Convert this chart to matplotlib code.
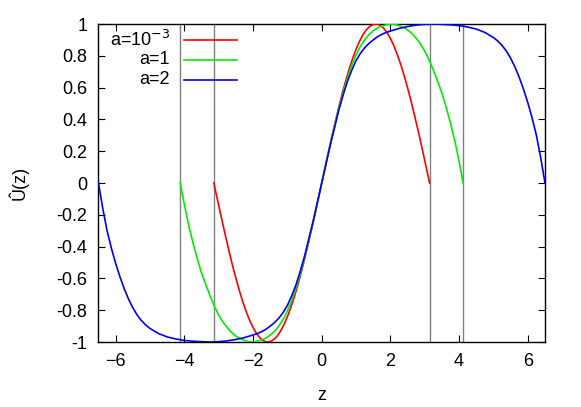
import numpy as np
import matplotlib.pyplot as plt
from matplotlib.lines import Line2D

plt.rcParams['font.family'] = ['Liberation Sans', 'DejaVu Sans']
plt.rcParams['font.size'] = 13

# a = 1e-3
z_red = [-3.14, -3.1, -3.0, -2.9, -2.8, -2.7, -2.6, -2.5, -2.4, -2.3, -2.2, -2.1, -2.0, -1.9, -1.8, -1.7,
         -1.6, -1.5, -1.4, -1.3, -1.2, -1.1, -1.0, -0.9, -0.8, -0.7, -0.6, -0.5, -0.4, -0.3, -0.2, -0.1,
         0.0, 0.1, 0.2, 0.3, 0.4, 0.5, 0.6, 0.7, 0.8, 0.9, 1.0, 1.1, 1.2, 1.3, 1.4, 1.5,
         1.6, 1.7, 1.8, 1.9, 2.0, 2.1, 2.2, 2.3, 2.4, 2.5, 2.6, 2.7, 2.8, 2.9, 3.0, 3.1, 3.14]
u_red = [0.0, -0.042, -0.141, -0.239, -0.335, -0.427, -0.516, -0.598, -0.675, -0.746, -0.808, -0.863, -0.909, -0.946, -0.974, -0.992,
         -1.0, -0.997, -0.985, -0.964, -0.932, -0.891, -0.841, -0.783, -0.717, -0.644, -0.565, -0.479, -0.389, -0.296, -0.199, -0.1,
         0.0, 0.1, 0.199, 0.296, 0.389, 0.479, 0.565, 0.644, 0.717, 0.783, 0.841, 0.891, 0.932, 0.964, 0.985, 0.997,
         1.0, 0.992, 0.974, 0.946, 0.909, 0.863, 0.808, 0.746, 0.675, 0.598, 0.516, 0.427, 0.335, 0.239, 0.141, 0.042, 0.0]

# a = 1
z_green = [-4.12, -4.0, -3.875, -3.75, -3.625, -3.5, -3.375, -3.25, -3.125, -3.0, -2.875, -2.75, -2.625, -2.5, -2.375,
           -2.25, -2.125, -2.0, -1.875, -1.75, -1.625, -1.5, -1.375, -1.25, -1.125, -1.0, -0.875, -0.75, -0.625, -0.5,
           -0.375, -0.25, -0.125,
           0.0, 0.125, 0.25, 0.375, 0.5, 0.625, 0.75, 0.875, 1.0, 1.125, 1.25, 1.375, 1.5, 1.625, 1.75, 1.875, 2.0,
           2.125, 2.25, 2.375, 2.5, 2.625, 2.75, 2.875, 3.0, 3.125, 3.25, 3.375, 3.5, 3.625, 3.75, 3.875, 4.0, 4.12]
u_green = [0.0, -0.135, -0.265, -0.375, -0.475, -0.565, -0.64, -0.71, -0.775, -0.83, -0.875, -0.91, -0.94, -0.963, -0.978,
           -0.99, -0.998, -1.0, -0.995, -0.987, -0.975, -0.957, -0.933, -0.90, -0.86, -0.805, -0.74, -0.66, -0.57, -0.47,
           -0.36, -0.245, -0.125,
           0.0, 0.125, 0.245, 0.36, 0.47, 0.57, 0.66, 0.74, 0.805, 0.86, 0.90, 0.933, 0.957, 0.975, 0.987, 0.995, 1.0,
           0.998, 0.99, 0.978, 0.963, 0.94, 0.91, 0.875, 0.83, 0.775, 0.71, 0.64, 0.565, 0.475, 0.375, 0.265, 0.135, 0.0]

# a = 2
z_blue = [-6.5, -6.375, -6.25, -6.125, -6.0, -5.875, -5.75, -5.625, -5.5, -5.375, -5.25, -5.125, -5.0, -4.75, -4.5,
          -4.25, -4.0, -3.75, -3.5, -3.25, -3.0, -2.75, -2.5, -2.25, -2.0, -1.875, -1.75, -1.625, -1.5, -1.375,
          -1.25, -1.125, -1.0, -0.875, -0.75, -0.625, -0.5, -0.375, -0.25, -0.125,
          0.0, 0.125, 0.25, 0.375, 0.5, 0.625, 0.75, 0.875, 1.0, 1.125, 1.25, 1.375, 1.5, 1.625, 1.75, 1.875,
          2.0, 2.25, 2.5, 2.75, 3.0, 3.25, 3.5, 3.75, 4.0, 4.25, 4.5, 4.75, 5.0, 5.125, 5.25, 5.375, 5.5,
          5.625, 5.75, 5.875, 6.0, 6.125, 6.25, 6.375, 6.5]
u_blue = [0.0, -0.16, -0.30, -0.41, -0.505, -0.59, -0.665, -0.73, -0.785, -0.83, -0.865, -0.893, -0.915, -0.947, -0.968,
          -0.981, -0.99, -0.995, -0.998, -1.0, -0.998, -0.993, -0.984, -0.972, -0.956, -0.947, -0.935, -0.92, -0.90, -0.878,
          -0.85, -0.815, -0.77, -0.71, -0.64, -0.555, -0.46, -0.35, -0.24, -0.12,
          0.0, 0.12, 0.24, 0.35, 0.46, 0.555, 0.64, 0.71, 0.77, 0.815, 0.85, 0.878, 0.90, 0.92, 0.935, 0.947,
          0.956, 0.972, 0.984, 0.993, 0.998, 1.0, 0.998, 0.995, 0.99, 0.981, 0.968, 0.947, 0.915, 0.893, 0.865, 0.83, 0.785,
          0.73, 0.665, 0.59, 0.505, 0.41, 0.30, 0.16, 0.0]

vlines = [-4.12, -3.14, 3.14, 4.12]
labels = ['a=10$^{-3}$', 'a=1', 'a=2']
colors = ['#ff0000', '#00ee00', '#0000ff']

fig = plt.figure(figsize=(5.81, 4.07), dpi=100)
ax = fig.add_axes([0.1695, 0.1597, 0.7685, 0.7813])

for xv in vlines:
    ax.axvline(xv, color='#808080', lw=1.0, zorder=1)

ax.plot(z_red, u_red, color=colors[0], lw=1.2, zorder=3)
ax.plot(z_green, u_green, color=colors[1], lw=1.2, zorder=3)
ax.plot(z_blue, u_blue, color=colors[2], lw=1.2, zorder=3)

ax.set_xlim(-6.5, 6.5)
ax.set_ylim(-1, 1)
ax.set_xticks(np.arange(-6, 7, 2))
ax.set_yticks(np.round(np.arange(-1, 1.01, 0.2), 1))
ax.set_yticklabels(['-1', '-0.8', '-0.6', '-0.4', '-0.2', '0', '0.2', '0.4', '0.6', '0.8', '1'])
ax.tick_params(direction='in', length=5, width=0.8, top=True, right=True, pad=8)
for s in ax.spines.values():
    s.set_linewidth(1.0)

ax.set_xlabel('z', labelpad=12)
ax.set_ylabel('Û(z)', labelpad=20)

# gnuplot-style key
key_y = [0.951, 0.887, 0.824]
for lab, col, yk in zip(labels, colors, key_y):
    ax.text(0.160, yk, lab, transform=ax.transAxes, ha='right', va='center')
    ax.add_line(Line2D([0.191, 0.310], [yk, yk], transform=ax.transAxes, color=col, lw=1.2))

fig.savefig('out.png', dpi=100)
